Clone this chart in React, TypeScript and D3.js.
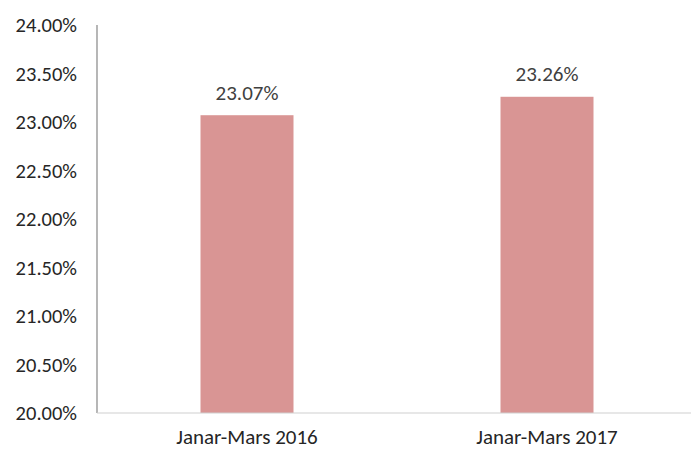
import React from 'react'
import * as d3 from 'd3'

const categories = ['Janar-Mars 2016', 'Janar-Mars 2017']
const values = [23.07, 23.26]
const yTicks = [20, 20.5, 21, 21.5, 22, 22.5, 23, 23.5, 24]

const W = 693
const H = 450
const margin = { top: 25, right: -4, bottom: 37, left: 97 }
const font = "Carlito, Lato, sans-serif"

const App = () => {
  const x = d3.scaleBand()
    .domain(categories)
    .range([margin.left, W - margin.right])
    .paddingInner(0.69)
    .paddingOuter(0.345)

  const y = d3.scaleLinear()
    .domain([20, 24])
    .range([H - margin.bottom, margin.top])

  const fmt = (v: number) => `${v.toFixed(2)}%`

  return (
    <svg width={W} height={H} style={{ position: 'absolute', left: 0, top: 0, fontFamily: font }}>
      <rect width={W} height={H} fill="#fff" />
      {yTicks.map((t) => (
        <text key={t} x={77} y={y(t)} dy="0.35em" textAnchor="end" fontSize={20.5} fill="#262626">
          {fmt(t)}
        </text>
      ))}
      {categories.map((c, i) => (
        <g key={c}>
          <rect
            x={x(c)}
            y={y(values[i])}
            width={x.bandwidth()}
            height={y(20) - y(values[i])}
            fill="#d99594"
          />
          <text
            x={(x(c) as number) + x.bandwidth() / 2}
            y={y(values[i]) - 23}
            dy="0.35em"
            textAnchor="middle"
            fontSize={21}
            fill="#404040"
          >
            {fmt(values[i])}
          </text>
          <text
            x={(x(c) as number) + x.bandwidth() / 2}
            y={y(20) + 24}
            dy="0.35em"
            textAnchor="middle"
            fontSize={21}
            fill="#262626"
          >
            {c}
          </text>
        </g>
      ))}
      <line x1={margin.left} x2={margin.left} y1={margin.top} y2={y(20)} stroke="#868686" strokeWidth={1.2} />
      <line x1={margin.left} x2={691} y1={y(20)} y2={y(20)} stroke="#d0d0d0" strokeWidth={1.2} />
    </svg>
  )
}

export default App
